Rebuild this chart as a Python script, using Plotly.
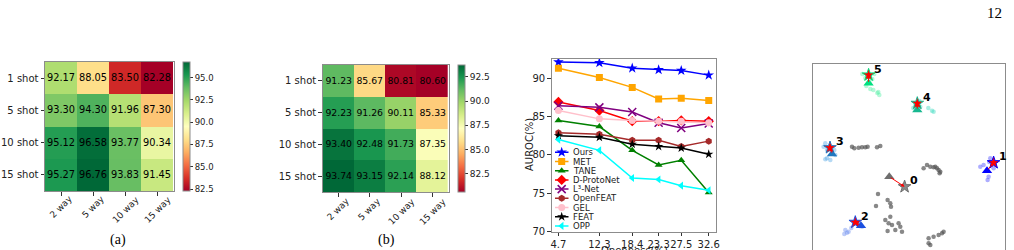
import numpy as np
import plotly.graph_objects as go

W, H = 1014, 250

# ---------------- data ----------------
way_labels = ["2 way", "5 way", "10 way", "15 way"]
shot_labels = ["1 shot", "5 shot", "10 shot", "15 shot"]
auroc_a = [[92.17, 88.05, 83.50, 82.28],
           [93.30, 94.30, 91.96, 87.30],
           [95.12, 96.58, 93.77, 90.34],
           [95.27, 96.76, 93.83, 91.45]]
auroc_b = [[91.23, 85.67, 80.81, 80.60],
           [92.23, 91.26, 90.11, 85.33],
           [93.40, 92.48, 91.73, 87.35],
           [93.74, 93.15, 92.14, 88.12]]
cbar_ticks_a = [82.5, 85.0, 87.5, 90.0, 92.5, 95.0]
cbar_ticks_b = [82.5, 85.0, 87.5, 90.0, 92.5]

openness = [4.7, 12.3, 18.4, 23.3, 27.5, 32.6]
auroc_ticks = [70, 75, 80, 85, 90]
method_names = ["Ours", "MET", "TANE", "D-ProtoNet", "L³-Net", "OpenFEAT", "GEL", "FEAT", "OPP"]
ours = [92.1, 92.0, 91.3, 91.1, 91.0, 90.4]
met = [91.3, 90.1, 88.8, 87.3, 87.4, 87.1]
tane = [84.5, 83.7, 80.6, 78.7, 79.3, 75.1]
d_protonet = [86.9, 85.8, 84.4, 84.4, 84.5, 84.4]
l3_net = [86.4, 86.2, 85.6, 84.2, 83.5, 84.1]
openfeat = [82.9, 82.7, 81.9, 81.9, 81.1, 81.8]
gel = [85.8, 84.7, 84.5, 84.4, 84.4, 84.2]
feat = [82.5, 82.3, 81.4, 81.1, 80.9, 80.1]
opp = [82.0, 80.6, 77.0, 76.8, 76.0, 75.4]
method_values = [ours, met, tane, d_protonet, l3_net, openfeat, gel, feat, opp]

# t-SNE embedding
class_ids = ["0", "1", "2", "3", "4", "5"]
emb_x = {
    "0": [38.7, 41, 45.3, 48.7, 52, 54.3, 63.7, 67,
          110.3, 113.7, 117, 120.3, 123.7, 125.3, 127, 126.3, 122,
          64.7, 62.7, 74.3, 77, 77.7,
          72, 77, 75.3, 85.3, 87, 88.7, 82, 74.3, 78.7,
          115.3, 120.3, 125.3, 128.7, 130.3, 115.3, 117],
    "1": [177, 167, 175.3, 174.3, 170.3, 180.3, 176],
    "2": [32, 33.7, 35.3, 48.7, 45.3, 31, 38],
    "3": [10.3, 12, 13.7, 22, 13.7, 17, 12, 21],
    "4": [115, 118.7, 120.3, 107, 102, 106, 100],
    "5": [52, 59, 56, 57, 60, 65, 66, 64, 49, 61, 53],
}
emb_y = {
    "0": [103.3, 101.7, 102.3, 102.7, 102.7, 103.3, 102.7, 104,
          81.7, 85, 83.3, 82.7, 81.7, 80, 78.3, 76.7, 83.3,
          56, 44, 50, 46.7, 43.3,
          30, 33.3, 26.7, 26.7, 23.3, 18.3, 20, 19, 25,
          11.7, 13.3, 15, 16.7, 18.3, 6.7, 5],
    "1": [91.7, 83.3, 73.3, 70, 85, 81.7, 88],
    "2": [20, 17.3, 18.3, 23.3, 26.7, 16, 22],
    "3": [103.3, 106.7, 100, 95, 91.7, 90, 90.7, 100],
    "4": [142, 139.3, 138.3, 143.3, 145, 149, 142],
    "5": [172, 171, 168, 161, 160, 158, 155, 157, 176, 176, 164],
}
proto_x = [76, 173.7, 47.7, 18.7, 104, 55.3]     # triangles
proto_y = [73.3, 79.3, 24.3, 96, 140, 166.7]
star_x = [91.3, 180.3, 42, 16.7, 104, 55.3]      # stars
star_y = [63.3, 87.3, 27.7, 102.3, 146.7, 175]

# ---------------- style ----------------
FONT = "DejaVu Sans"
SPINE = "#8c8c8c"
rdylgn = ['#a50026', '#d73027', '#f46d43', '#fdae61', '#fee08b', '#ffffbf',
          '#d9ef8b', '#a6d96a', '#66bd63', '#1a9850', '#006837']
cscale = [[i / 10, c] for i, c in enumerate(rdylgn)]
method_colors = ["#0000ff", "#ffa500", "#008000", "#ff0000", "#800080",
                 "#a52a2a", "#ffc0cb", "#000000", "#00ffff"]
method_symbols = ["star", "square", "triangle-up", "diamond", "x-thin",
                  "hexagon", "circle", "star", "triangle-left"]
method_sizes = [8, 7, 7, 8, 8, 7, 7, 7, 7]
class_tri_colors = ["#6e6e6e", "#0000ff", "#1a4fe0", "#1f78c0", "#17b890", "#00e080"]
class_pt_colors = ["#555555", "#4a4aff", "#6d8ff0", "#5aaae6", "#40dcc0", "#5cf0a8"]
class_pt_alpha = [0.7, 0.45, 0.45, 0.45, 0.45, 0.45]


def fx(p):
    return p / W


def fy(p):
    return 1 - p / H


fig = go.Figure()

# ---------------- heatmaps ----------------
heat_specs = [
    dict(z=auroc_a, ax="x", ay="y", xd=(45, 174), yd=(62, 191), cb_x=183, cb_th=7,
         ticks=cbar_ticks_a, cb_font=8.5, txt=9.8, lab_top=193, cap="(a)", cap_x=118),
    dict(z=auroc_b, ax="x2", ay="y2", xd=(322.7, 449), yd=(65, 192), cb_x=458, cb_th=7,
         ticks=cbar_ticks_b, cb_font=9, txt=9.3, lab_top=195, cap="(b)", cap_x=386),
]
annotations = []
for k, s in enumerate(heat_specs):
    z = np.array(s["z"])
    fig.add_trace(go.Heatmap(
        z=z, x=way_labels, y=shot_labels, xaxis=s["ax"], yaxis=s["ay"],
        colorscale=cscale, zmin=z.min(), zmax=z.max(),
        texttemplate="%{z:.2f}", textfont=dict(family=FONT, size=s["txt"], color="black"),
        hoverinfo="skip",
        colorbar=dict(thickness=s["cb_th"], thicknessmode="pixels",
                      len=s["yd"][1] - s["yd"][0], lenmode="pixels",
                      x=fx(s["cb_x"]), xanchor="left", xpad=0,
                      y=fy((s["yd"][0] + s["yd"][1]) / 2), yanchor="middle", ypad=0,
                      outlinewidth=1, outlinecolor=SPINE, bgcolor="rgba(0,0,0,0)",
                      ticks="outside", ticklen=3, tickwidth=1, tickcolor="#333",
                      tickvals=s["ticks"], ticktext=[f"{v:.1f}" for v in s["ticks"]],
                      tickfont=dict(family=FONT, size=s["cb_font"], color="#222")),
    ))
    for lab in way_labels:
        annotations.append(dict(x=lab, xref=s["ax"], y=fy(s["lab_top"]), yref="paper",
                                text=lab, textangle=-45, showarrow=False,
                                xanchor="center", yanchor="top", borderpad=0,
                                font=dict(family=FONT, size=9, color="#222")))
    annotations.append(dict(x=fx(s["cap_x"]), y=fy(240), xref="paper", yref="paper",
                            text=s["cap"], showarrow=False, xanchor="center", yanchor="middle",
                            font=dict(family="Liberation Serif", size=14, color="black")))

# ---------------- line chart ----------------
for name, vals, col, sym, sz in zip(method_names, method_values, method_colors,
                                     method_symbols, method_sizes):
    fig.add_trace(go.Scatter(
        x=openness, y=vals, xaxis="x3", yaxis="y3", mode="lines+markers", name=name,
        line=dict(color=col, width=1.5),
        marker=dict(symbol=sym, size=sz, color=col, line=dict(color=col, width=1.5 if sym == "x-thin" else 0)),
        showlegend=False, hoverinfo="skip"))

# manual compact legend, placed in pixel space then mapped to the line-chart axes
X3_PX = (551.7, 716.0)
Y3_PX = (59.0, 231.7)
X3_RANGE = [3.45, 33.95]
Y3_RANGE = [70, 92.5]


def lx(p):
    return X3_RANGE[0] + (p - X3_PX[0]) / (X3_PX[1] - X3_PX[0]) * (X3_RANGE[1] - X3_RANGE[0])


def ly(p):
    return Y3_RANGE[0] + (Y3_PX[1] - p) / (Y3_PX[1] - Y3_PX[0]) * (Y3_RANGE[1] - Y3_RANGE[0])


for i, (name, col, sym, sz) in enumerate(zip(method_names, method_colors, method_symbols, method_sizes)):
    yy = 152.3 + i * 9.2
    fig.add_trace(go.Scatter(x=[lx(555), lx(568.5)], y=[ly(yy), ly(yy)], xaxis="x3", yaxis="y3",
                             mode="lines", line=dict(color=col, width=1.5),
                             showlegend=False, hoverinfo="skip"))
    fig.add_trace(go.Scatter(x=[lx(561.7)], y=[ly(yy)], xaxis="x3", yaxis="y3", mode="markers",
                             marker=dict(symbol=sym, size=sz, color=col,
                                         line=dict(color=col, width=1.5 if sym == "x-thin" else 0)),
                             showlegend=False, hoverinfo="skip"))
    annotations.append(dict(x=lx(571), y=ly(yy), xref="x3", yref="y3", text=name,
                            showarrow=False, xanchor="left", yanchor="middle",
                            font=dict(family=FONT, size=8.5, color="#222")))

annotations.append(dict(x=fx(529), y=fy(145), xref="paper", yref="paper", text="AUROC(%)",
                        textangle=-90, showarrow=False, xanchor="center", yanchor="middle",
                        font=dict(family=FONT, size=10, color="#222")))
annotations.append(dict(x=fx(634), y=fy(250), xref="paper", yref="paper", text="Openness(%)",
                        showarrow=False, xanchor="center", yanchor="middle",
                        font=dict(family=FONT, size=10, color="#222")))

# ---------------- t-SNE panel ----------------
for cid, pc, pa in zip(class_ids, class_pt_colors, class_pt_alpha):
    fig.add_trace(go.Scatter(x=emb_x[cid], y=emb_y[cid], xaxis="x4", yaxis="y4", mode="markers",
                             marker=dict(size=4.5, color=pc, opacity=pa, line=dict(width=0)),
                             showlegend=False, hoverinfo="skip"))
fig.add_trace(go.Scatter(x=proto_x, y=proto_y, xaxis="x4", yaxis="y4", mode="markers",
                         marker=dict(symbol="triangle-up", size=9, color=class_tri_colors,
                                     line=dict(width=0)),
                         showlegend=False, hoverinfo="skip"))
for j, cid in enumerate(class_ids):
    annotations.append(dict(x=star_x[j], y=star_y[j], ax=proto_x[j], ay=proto_y[j],
                            xref="x4", yref="y4", axref="x4", ayref="y4", text="",
                            showarrow=True, arrowhead=2, arrowsize=0.7, arrowwidth=1,
                            arrowcolor="#ff0000", standoff=0))
star_fill = ["#8a8a8a"] + ["#ff0000"] * 5
fig.add_trace(go.Scatter(x=star_x, y=star_y, xaxis="x4", yaxis="y4", mode="markers",
                         marker=dict(symbol="star", size=9.5, color=star_fill,
                                     line=dict(color=class_tri_colors, width=1)),
                         showlegend=False, hoverinfo="skip"))
for j, cid in enumerate(class_ids):
    annotations.append(dict(x=star_x[j], y=star_y[j], xref="x4", yref="y4", text=f"<b>{cid}</b>",
                            showarrow=False, xanchor="center", yanchor="middle",
                            xshift=9.5, yshift=6,
                            font=dict(family=FONT, size=11, color="black")))

# page number
annotations.append(dict(x=fx(994), y=fy(13), xref="paper", yref="paper", text="12",
                        showarrow=False, xanchor="center", yanchor="middle",
                        font=dict(family="Liberation Serif", size=15, color="black")))

frame = dict(showline=True, linecolor=SPINE, linewidth=1, mirror=True, showgrid=False,
             zeroline=False, automargin=False)
tickfont = dict(family=FONT, size=10, color="#222")

fig.update_layout(
    template="none",
    width=W, height=H, margin=dict(l=0, r=0, t=0, b=0, pad=0, autoexpand=False),
    paper_bgcolor="white", plot_bgcolor="rgba(0,0,0,0)",
    font=dict(family=FONT, color="#222"),
    showlegend=False,
    xaxis=dict(domain=[fx(45), fx(174)], anchor="y", showticklabels=False,
               ticks="outside", ticklen=3.5, tickcolor="#333", **frame),
    yaxis=dict(domain=[fy(191), fy(62)], anchor="x", autorange="reversed",
               ticks="outside", ticklen=3.5, tickcolor="#333", tickfont=tickfont, **frame),
    xaxis2=dict(domain=[fx(322.7), fx(449)], anchor="y2", showticklabels=False,
                ticks="outside", ticklen=3.5, tickcolor="#333", **frame),
    yaxis2=dict(domain=[fy(192), fy(65)], anchor="x2", autorange="reversed",
                ticks="outside", ticklen=3.5, tickcolor="#333", tickfont=tickfont, **frame),
    xaxis3=dict(domain=[fx(X3_PX[0]), fx(X3_PX[1])], anchor="y3", range=X3_RANGE,
                tickvals=openness, ticktext=[str(v) for v in openness], tickangle=0,
                ticks="outside", ticklen=3.5, tickcolor="#333",
                tickfont=dict(family=FONT, size=10, color="#222"), **frame),
    yaxis3=dict(domain=[fy(Y3_PX[1]), fy(Y3_PX[0])], anchor="x3", range=Y3_RANGE,
                tickvals=auroc_ticks, ticks="outside", ticklen=3.5, tickcolor="#333",
                tickfont=dict(family=FONT, size=10, color="#222"), **frame),
    xaxis4=dict(domain=[fx(813.3), fx(1005.3)], anchor="y4", range=[0, 192], side="top",
                showline=True, linecolor=SPINE, linewidth=1, mirror=False, automargin=False,
                showticklabels=False, ticks="", showgrid=False, zeroline=False),
    yaxis4=dict(domain=[0, fy(64.3)], anchor="x4", range=[0, 185.7],
                showline=True, linecolor=SPINE, linewidth=1, mirror=True, automargin=False,
                showticklabels=False, ticks="", showgrid=False, zeroline=False),
    annotations=annotations,
)

fig.write_html("out.html")
